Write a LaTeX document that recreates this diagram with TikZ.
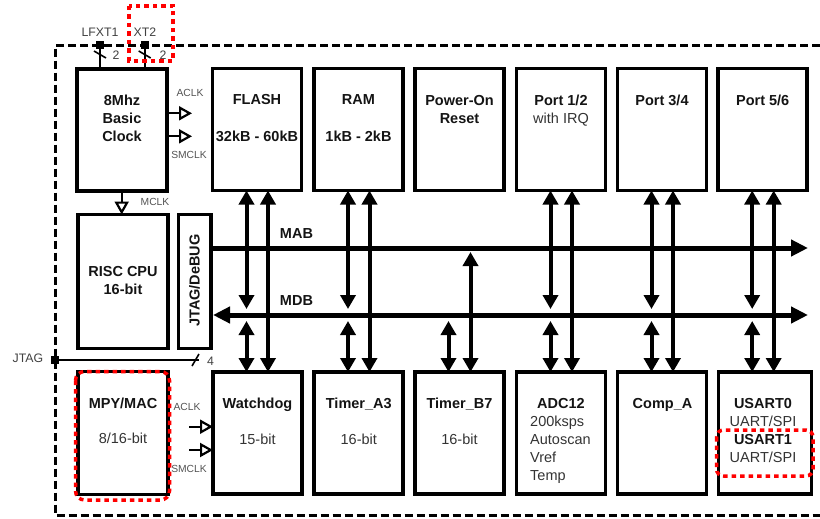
\documentclass[tikz,border=0pt]{standalone}
\usepackage{fontspec}
\setmainfont{Liberation Sans}
\usetikzlibrary{arrows.meta}
\begin{document}
\begin{tikzpicture}[x=1pt,y=-1pt,
  box/.style={draw,line width=3.7pt,inner sep=0pt,outer sep=0pt},
  topbox/.style={box,minimum width=89pt,minimum height=122pt},
  botbox/.style={box,minimum width=89pt,minimum height=122pt},
  bt/.style={font=\fontsize{14.5}{17}\selectfont\bfseries,text=black!92,inner sep=0pt,text height=10.4pt,text depth=0pt},
  rt/.style={font=\fontsize{14.5}{17}\selectfont,text=black!80,inner sep=0pt,text height=10.4pt,text depth=0pt},
  sl/.style={font=\fontsize{10.3}{12}\selectfont,text=black!68,inner sep=0pt,text height=7.4pt,text depth=0pt},
  pl/.style={font=\fontsize{12.3}{14}\selectfont,text=black!75,inner sep=0pt,text height=8.8pt,text depth=0pt},
  pinsq/.style={fill=black,minimum size=8pt,inner sep=0pt,outer sep=0pt},
  thinln/.style={line width=2.4pt},
  bi/.style={line width=4pt,{Triangle[length=14pt,width=15pt]}-{Triangle[length=14pt,width=15pt]}},
  bus/.style={line width=5pt},
  clkarrow/.style={line width=2.2pt,-{Triangle[open,length=13pt,width=14pt]}},
  reddot/.style={draw=red,line width=3.5pt,dash pattern=on 4.5pt off 4pt},
]
\useasboundingbox (0,0) rectangle (820,519);

% outer dashed border
\draw[line width=3pt,dash pattern=on 8pt off 4pt] (820,45.3) -- (55.3,45.3) -- (55.3,515.3) -- (820,515.3);

% top row
\node[box,minimum width=90pt,minimum height=122pt] (clk) at (122,130) {};
\node[topbox] (flash) at (257,129.5) {};
\node[topbox] (ram) at (358.5,129.5) {};
\node[topbox] (pow) at (459.5,129.5) {};
\node[topbox] (p12) at (561,129.5) {};
\node[topbox] (p34) at (662,129.5) {};
\node[topbox] (p56) at (762.7,129.5) {};

% middle
\node[box,minimum width=90.5pt,minimum height=134pt] (cpu) at (123,281.5) {};
\node[box,minimum width=32.5pt,minimum height=134pt] (jtag) at (194.75,281.5) {};
\node[bt,rotate=90] (jtagT) at (194.5,280.5) {JTAG/DeBUG};

% bottom row
\node[box,minimum width=90.5pt,minimum height=123pt] (mpy) at (123,433) {};
\node[botbox] (wd) at (257.5,433) {};
\node[botbox] (ta) at (358.8,433) {};
\node[botbox] (tb) at (459.5,433) {};
\node[botbox] (adc) at (561,433) {};
\node[botbox] (comp) at (662,433) {};
\node[box,minimum width=93pt,minimum height=122pt] (usart) at (765,433) {};

% texts top
\node[bt] (clkA) at (122,100) {8Mhz};
\node[bt] (clkB) at (122,118) {Basic};
\node[bt] (clkC) at (122,136) {Clock};
\node[bt] (flashA) at (257,99) {FLASH};
\node[bt] (flashB) at (257,136) {32kB - 60kB};
\node[bt] (ramA) at (358.5,99) {RAM};
\node[bt] (ramB) at (358.5,136) {1kB - 2kB};
\node[bt] (powA) at (459.5,100) {Power-On};
\node[bt] (powB) at (459.5,118) {Reset};
\node[bt] (p12A) at (561,100) {Port 1/2};
\node[rt] (p12B) at (561,118) {with IRQ};
\node[bt] (p34A) at (662,100) {Port 3/4};
\node[bt] (p56A) at (762.7,100) {Port 5/6};
\node[bt] (cpuA) at (123,271) {RISC CPU};
\node[bt] (cpuB) at (123,289) {16-bit};

% texts bottom
\node[bt] (mpyA) at (123,403) {MPY/MAC};
\node[rt] (mpyB) at (123,438.5) {8/16-bit};
\node[bt] (wdA) at (257.5,403) {Watchdog};
\node[rt] (wdB) at (257.5,439) {15-bit};
\node[bt] (taA) at (358.8,403) {Timer\_A3};
\node[rt] (taB) at (358.8,439) {16-bit};
\node[bt] (tbA) at (459.5,403) {Timer\_B7};
\node[rt] (tbB) at (459.5,439) {16-bit};
\node[bt] (adcA) at (561,403) {ADC12};
\node[rt,anchor=west] (adcB) at (530,421) {200ksps};
\node[rt,anchor=west] (adcC) at (530,439) {Autoscan};
\node[rt,anchor=west] (adcD) at (530,457) {Vref};
\node[rt,anchor=west] (adcE) at (530,475) {Temp};
\node[bt] (compA) at (662.5,403) {Comp\_A};
\node[bt] (usA) at (763,403) {USART0};
\node[rt] (usB) at (763,421) {UART/SPI};
\node[bt] (usC) at (763,439) {USART1};
\node[rt] (usD) at (763,457) {UART/SPI};

% buses
\coordinate (mabE) at (808,248);
\coordinate (mdbE) at (808,315);
\coordinate (mdbA) at (0,309);
\coordinate (mdbB) at (0,321);
\coordinate (mabB) at (0,252);
\draw[bus,-{Triangle[length=17pt,width=16pt]}] (jtag.east |- mabE) -- (mabE);
\draw[bus,{Triangle[length=17pt,width=16pt]}-{Triangle[length=17pt,width=16pt]}] ([xshift=2pt]jtag.east |- mdbE) -- (mdbE);
\node[bt] (mabT) at (296.5,233.5) {MAB};
\node[bt] (mdbT) at (296.5,300.5) {MDB};

% vertical connections
\foreach \t/\b in {flash/wd, ram/ta, p12/adc, p34/comp, p56/usart}{
  \draw[bi] ([xshift=-10.5pt]\t.south) -- ([xshift=-10.5pt]\t.south |- mdbA);
  \draw[bi] ([xshift=-10.5pt]\t.south |- mdbB) -- ([xshift=-10.5pt]\t.south |- \b.north);
  \draw[bi] ([xshift=11pt]\t.south) -- ([xshift=11pt]\t.south |- \b.north);
}
\draw[bi] ([xshift=-11pt]tb.north |- mdbB) -- ([xshift=-11pt]tb.north);
\draw[bi] ([xshift=11pt]tb.north |- mabB) -- ([xshift=11pt]tb.north);

% clock outputs
\coordinate (aclkE) at (192,113.3);
\coordinate (smclkE) at (192,136.3);
\draw[clkarrow] (clk.east |- aclkE) -- (aclkE);
\draw[clkarrow] (clk.east |- smclkE) -- (smclkE);
\node[sl] (aclkT) at (190,93) {ACLK};
\node[sl] (smclkT) at (189,155) {SMCLK};
\draw[clkarrow] ([xshift=-0.3pt]clk.south) -- ([xshift=-0.3pt]clk.south |- cpu.north);
\node[sl] (mclkT) at (155,202) {MCLK};

% clock inputs to watchdog
\coordinate (aclkS) at (189.3,426.7);
\coordinate (smclkS) at (189.3,450);
\draw[clkarrow] (aclkS) -- (wd.west |- aclkS);
\draw[clkarrow] (smclkS) -- (wd.west |- smclkS);
\node[sl] (aclkT2) at (187,407) {ACLK};
\node[sl] (smclkT2) at (189,469) {SMCLK};

% crystal pins
\node[pinsq] (lfxt) at (100,45) {};
\node[pinsq] (xt2) at (144.7,45) {};
\draw[thinln] (lfxt) -- (lfxt |- clk.north);
\draw[thinln] (xt2) -- (xt2 |- clk.north);
\draw[line width=1.6pt] (94,51) -- (106,58);
\draw[line width=1.6pt] (138.7,51) -- (150.7,58);
\node[pl] (lfxtT) at (100,32.5) {LFXT1};
\node[pl] (xt2T) at (145,32.5) {XT2};
\node[pl] (n2a) at (116,55) {2};
\node[pl] (n2b) at (163,55) {2};

% JTAG pin
\node[pinsq] (jpin) at (55.3,360) {};
\coordinate (jend) at (199,360);
\draw[thinln] (jpin) -- (jend);
\draw[line width=1.6pt] (192,366) -- (199,354);
\node[pl] (jtagL) at (28,358) {JTAG};
\node[pl] (n4) at (210.5,361) {4};

% red highlights
\draw[reddot] (129,6) rectangle (173,61);
\draw[reddot,rounded corners=9pt] (75.5,371.5) rectangle (169.5,500);
\draw[reddot,rounded corners=7pt] (716.5,430) rectangle (813,476);
\end{tikzpicture}
\end{document}
